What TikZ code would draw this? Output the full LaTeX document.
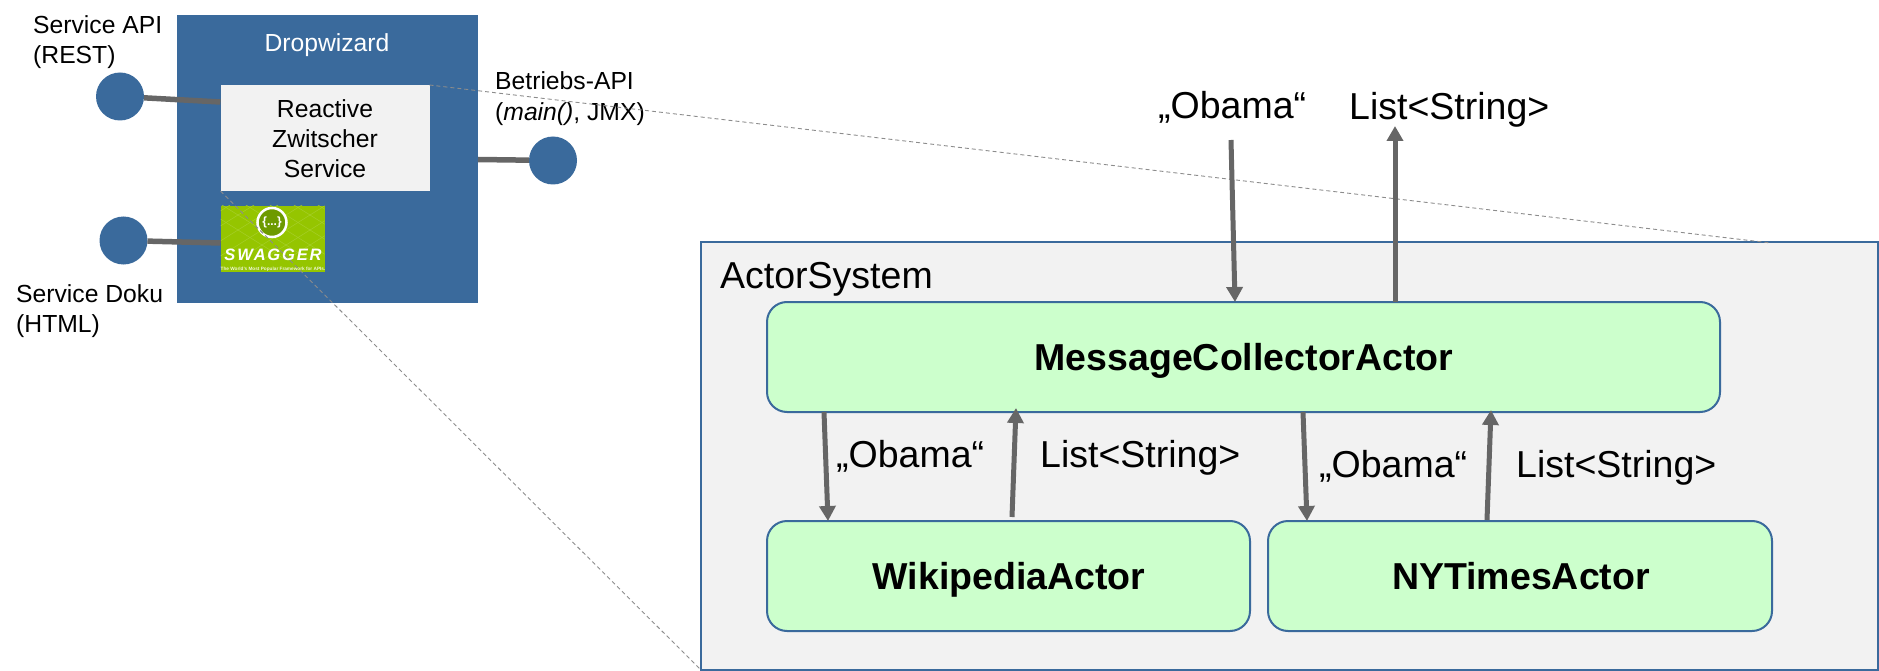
\documentclass[tikz,border=0pt]{standalone}
\usepackage{fontspec}
\setmainfont{Liberation Sans}
\usetikzlibrary{arrows.meta}
\definecolor{dwblue}{HTML}{3A6A9C}
\definecolor{lightbox}{HTML}{F2F2F2}
\definecolor{actorgreen}{HTML}{CCFFCC}
\definecolor{arrowgray}{HTML}{666666}
\definecolor{swgreen}{HTML}{95C500}
\definecolor{swdark}{HTML}{6D9A00}
\definecolor{swline}{HTML}{A6CF2A}
\tikzset{
  x=1pt,y=-1pt,
  box/.style={rectangle,inner sep=0pt,outer sep=0pt,anchor=north west},
  port/.style={circle,fill=dwblue,inner sep=0pt,outer sep=0pt,minimum size=48pt},
  actor/.style={box,draw=dwblue,line width=2pt,fill=actorgreen,rounded corners=20pt},
  actortext/.style={inner sep=0pt,anchor=base,font=\fontsize{37.5}{42}\selectfont\bfseries},
  bigtext/.style={inner sep=0pt,anchor=base west,font=\fontsize{37.5}{42}\selectfont},
  small/.style={inner sep=0pt,font=\fontsize{24.7}{30}\selectfont},
  link/.style={draw=arrowgray,line width=5.5pt},
  flow/.style={draw=arrowgray,line width=5pt,-{Triangle[length=15pt,width=16pt]},arrowgray},
  zoomline/.style={draw=black!45,line width=.9pt,dash pattern=on 4pt off 3pt},
}
\begin{document}
\begin{tikzpicture}
\useasboundingbox (0,0) rectangle (1879,671);
% Dropwizard block
\node[box,fill=dwblue,minimum width=301pt,minimum height=288pt] (dw) at (177,15) {};
\node[inner sep=0pt,anchor=base,text=white,font=\fontsize{24.7}{28}\selectfont] (dwlabel) at (327,52) {Dropwizard};
\node[box,fill=lightbox,minimum width=209pt,minimum height=106pt] (svc) at (220.5,85) {};
\node[small,anchor=base] (svc1) at (325,118) {Reactive};
\node[small,anchor=base] (svc2) at (325,148) {Zwitscher};
\node[small,anchor=base] (svc3) at (325,177.5) {Service};
% Swagger logo
\node[box,fill=swgreen,minimum width=104pt,minimum height=66pt] (swagger) at (220.5,206) {};
\begin{scope}
  \clip (swagger.north west) rectangle (swagger.south east);
  \foreach \i in {0,1,...,8} {
    \draw[swline,line width=.5pt] (190+\i*24,200) -- ++(96,60);
    \draw[swline,line width=.5pt] (190+\i*24,200) -- ++(-96,60);
  }
\end{scope}
\node[circle,draw=white,line width=2.5pt,fill=swdark,minimum size=29pt,inner sep=0pt,text=white,font=\fontsize{12}{14}\selectfont\bfseries] (swlogo) at (272,222.5) {\{...\}};
\node[inner sep=0pt,anchor=base,text=white,font=\fontsize{16.5}{20}\selectfont\bfseries\itshape\addfontfeature{LetterSpace=11}] (swname) at (273,260) {SWAGGER};
\node[inner sep=0pt,anchor=base,text=white!85!swgreen,font=\fontsize{4.7}{6}\selectfont\bfseries] (swtag) at (273,270) {The World's Most Popular Framework for APIs.};
% Ports
\node[port] (p1) at (120,96.5) {};
\node[port] (p2) at (553,160.5) {};
\node[port] (p3) at (123.5,240.5) {};
\coordinate (p1a) at (220.5,102);
\coordinate (p2a) at (478,159.5);
\coordinate (p3a) at (220.5,243);
\draw[link] (p1) -- (p1a);
\draw[link] (p2a) -- (p2);
\draw[link] (p3) -- (p3a);
% Small labels
\node[small,anchor=base west] (l1a) at (33,34) {Service API};
\node[small,anchor=base west] (l1b) at (33,64) {(REST)};
\node[small,anchor=base west] (l2a) at (495,90) {Betriebs-API};
\node[small,anchor=base west] (l2b) at (495,120.5) {(\textit{main()}, JMX)};
\node[small,anchor=base west] (l3a) at (16,302) {Service Doku};
\node[small,anchor=base west] (l3b) at (16,332) {(HTML)};
% Actor system
\node[box,draw=dwblue,line width=2pt,fill=lightbox,minimum width=1177pt,minimum height=428pt] (sys) at (701,242) {};
\node[bigtext] (syslabel) at (720,288) {ActorSystem};
\node[actor,minimum width=953pt,minimum height=110pt] (mca) at (767,302) {};
\node[actor,minimum width=483pt,minimum height=110pt] (wiki) at (767,521) {};
\node[actor,minimum width=504pt,minimum height=110pt] (ny) at (1268,521) {};
\node[actortext] (mcat) at (1244,370) {MessageCollectorActor};
\node[actortext] (wikit) at (1009,589) {WikipediaActor};
\node[actortext] (nyt) at (1521,589) {NYTimesActor};
% Zoom lines
\coordinate (zoomTop) at (1771,243);
\draw[zoomline] (svc.north east) -- (zoomTop);
\draw[zoomline] (svc.south west) -- (sys.south west);
% Flow labels
\node[bigtext] (ob0) at (1158,119) {„Obama“};
\node[bigtext] (li0) at (1349,120) {List<String>};
\node[bigtext] (ob1) at (836,467) {„Obama“};
\node[bigtext] (li1) at (1040,467) {List<String>};
\node[bigtext] (ob2) at (1319,477) {„Obama“};
\node[bigtext] (li2) at (1516,477) {List<String>};
% Flows
\coordinate (a0s) at (1231,140);
\coordinate (a0e) at (1235,302);
\coordinate (b0s) at (1395,302);
\coordinate (b0e) at (1395,126);
\coordinate (a1s) at (824,412);
\coordinate (a1e) at (828,521);
\coordinate (b1s) at (1012,517);
\coordinate (b1e) at (1016,408);
\coordinate (a2s) at (1303,412);
\coordinate (a2e) at (1307,521);
\coordinate (b2s) at (1487,520);
\coordinate (b2e) at (1491,410);
\draw[flow] (a0s) -- (a0e);
\draw[flow] (b0s) -- (b0e);
\draw[flow] (a1s) -- (a1e);
\draw[flow] (b1s) -- (b1e);
\draw[flow] (a2s) -- (a2e);
\draw[flow] (b2s) -- (b2e);
\end{tikzpicture}
\end{document}
